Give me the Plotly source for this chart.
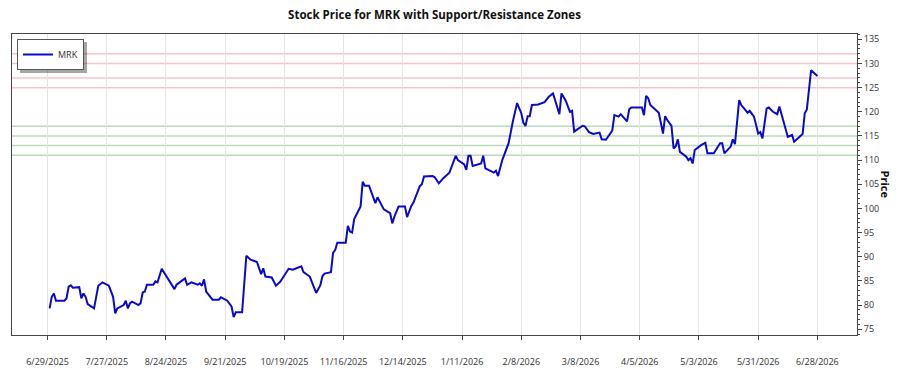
import plotly.graph_objects as go

# ---- data ----
dates = [
    "2025-06-30", "2025-07-01", "2025-07-02", "2025-07-03", "2025-07-07", "2025-07-08",
    "2025-07-09", "2025-07-10", "2025-07-11", "2025-07-14", "2025-07-15", "2025-07-16",
    "2025-07-17", "2025-07-18", "2025-07-21", "2025-07-23", "2025-07-25", "2025-07-28",
    "2025-07-30", "2025-07-31", "2025-08-01", "2025-08-04", "2025-08-05", "2025-08-06",
    "2025-08-07", "2025-08-08", "2025-08-11", "2025-08-12", "2025-08-13", "2025-08-14",
    "2025-08-15", "2025-08-18", "2025-08-19", "2025-08-20", "2025-08-22", "2025-08-25",
    "2025-08-26", "2025-08-28", "2025-08-29", "2025-09-02", "2025-09-03", "2025-09-05",
    "2025-09-08", "2025-09-09", "2025-09-10", "2025-09-11", "2025-09-12", "2025-09-15",
    "2025-09-18", "2025-09-19", "2025-09-22", "2025-09-24", "2025-09-25", "2025-09-26",
    "2025-09-29", "2025-10-01", "2025-10-03", "2025-10-06", "2025-10-08", "2025-10-09",
    "2025-10-10", "2025-10-13", "2025-10-15", "2025-10-17", "2025-10-21", "2025-10-23",
    "2025-10-27", "2025-10-28", "2025-10-31", "2025-11-03", "2025-11-05", "2025-11-06",
    "2025-11-07", "2025-11-10", "2025-11-11", "2025-11-12", "2025-11-13", "2025-11-17",
    "2025-11-18", "2025-11-19", "2025-11-20", "2025-11-21", "2025-11-24", "2025-11-25",
    "2025-11-26", "2025-11-28", "2025-12-01", "2025-12-02", "2025-12-05", "2025-12-08",
    "2025-12-09", "2025-12-10", "2025-12-12", "2025-12-15", "2025-12-16", "2025-12-18",
    "2025-12-19", "2025-12-22", "2025-12-23", "2025-12-24", "2025-12-28", "2025-12-29",
    "2025-12-31", "2026-01-02", "2026-01-05", "2026-01-06", "2026-01-08", "2026-01-09",
    "2026-01-12", "2026-01-13", "2026-01-14", "2026-01-15", "2026-01-16", "2026-01-20",
    "2026-01-21", "2026-01-22", "2026-01-24", "2026-01-26", "2026-01-27", "2026-01-28",
    "2026-01-30", "2026-02-02", "2026-02-04", "2026-02-06", "2026-02-08", "2026-02-09",
    "2026-02-10", "2026-02-11", "2026-02-12", "2026-02-13", "2026-02-16", "2026-02-19",
    "2026-02-21", "2026-02-23", "2026-02-26", "2026-02-27", "2026-03-01", "2026-03-03",
    "2026-03-04", "2026-03-05", "2026-03-06", "2026-03-09", "2026-03-10", "2026-03-12",
    "2026-03-14", "2026-03-17", "2026-03-18", "2026-03-20", "2026-03-23", "2026-03-24",
    "2026-03-26", "2026-03-27", "2026-03-30", "2026-03-31", "2026-04-01", "2026-04-06",
    "2026-04-07", "2026-04-08", "2026-04-09", "2026-04-10", "2026-04-14", "2026-04-16",
    "2026-04-17", "2026-04-18", "2026-04-20", "2026-04-21", "2026-04-22", "2026-04-23",
    "2026-04-24", "2026-04-27", "2026-04-28", "2026-04-29", "2026-04-30", "2026-05-01",
    "2026-05-04", "2026-05-06", "2026-05-07", "2026-05-10", "2026-05-13", "2026-05-14",
    "2026-05-15", "2026-05-18", "2026-05-19", "2026-05-20", "2026-05-22", "2026-05-23",
    "2026-05-26", "2026-05-27", "2026-05-29", "2026-05-31", "2026-06-01", "2026-06-02",
    "2026-06-04", "2026-06-05", "2026-06-07", "2026-06-09", "2026-06-10", "2026-06-14",
    "2026-06-16", "2026-06-17", "2026-06-21", "2026-06-22", "2026-06-23", "2026-06-25",
    "2026-06-28",
]

prices = [
    79.3, 81.7, 82.4, 80.9, 80.9, 81.4,
    83.8, 84.1, 83.6, 83.7, 81.4, 82.4,
    81.7, 80.2, 79.3, 84.0, 84.7, 84.0,
    81.7, 78.3, 79.3, 80.0, 80.9, 79.3,
    80.4, 80.7, 80.0, 80.4, 82.6, 82.8,
    84.2, 84.2, 84.9, 84.7, 87.5, 85.5,
    84.9, 83.3, 84.2, 85.5, 84.2, 84.7,
    84.2, 84.5, 84.0, 85.3, 82.8, 81.1,
    81.1, 81.6, 80.9, 79.7, 77.5, 78.5,
    78.5, 90.2, 89.4, 88.9, 86.4, 87.6,
    85.9, 85.7, 84.0, 84.8, 87.5, 87.3,
    88.0, 86.8, 85.9, 82.5, 84.1, 86.0,
    86.5, 86.8, 90.8, 91.4, 92.9, 92.9,
    96.4, 95.2, 95.0, 97.8, 100.4, 105.5,
    104.7, 104.7, 101.1, 102.3, 99.8, 99.0,
    96.9, 98.3, 100.4, 100.4, 98.2, 100.5,
    101.2, 104.6, 105.0, 106.6, 106.7, 106.5,
    105.2, 106.2, 107.4, 108.6, 110.9, 110.0,
    109.1, 108.0, 110.9, 110.9, 108.8, 109.3,
    110.9, 108.3, 107.8, 107.4, 107.8, 106.7,
    110.0, 113.5, 118.0, 121.8, 119.7, 117.7,
    117.1, 119.1, 119.1, 121.4, 121.5, 122.0,
    123.1, 123.8, 119.5, 123.8, 122.3, 120.0,
    120.2, 115.9, 116.2, 117.1, 117.0, 115.8,
    115.4, 115.7, 114.3, 114.2, 116.1, 119.3,
    119.0, 119.5, 118.0, 120.5, 120.9, 120.9,
    119.3, 123.3, 122.8, 121.4, 119.8, 115.5,
    119.1, 118.3, 117.1, 112.4, 112.8, 114.3,
    111.7, 110.7, 110.0, 110.4, 109.3, 112.1,
    113.1, 113.6, 111.4, 111.4, 113.5, 113.5,
    111.4, 112.8, 114.3, 113.3, 122.4, 121.4,
    119.8, 120.2, 119.0, 115.5, 115.8, 114.5,
    120.7, 120.9, 120.0, 119.5, 121.1, 114.8,
    115.2, 113.8, 115.4, 119.7, 120.5, 128.6,
    127.4,
]

resistance_levels = [125, 127, 130, 132]
support_levels = [111, 113, 115, 117]

x_tick_dates = [
    "2025-06-29", "2025-07-27", "2025-08-24", "2025-09-21", "2025-10-19", "2025-11-16",
    "2025-12-14", "2026-01-11", "2026-02-08", "2026-03-08", "2026-04-05", "2026-05-03",
    "2026-05-31", "2026-06-28",
]
x_tick_labels = [
    "6/29/2025", "7/27/2025", "8/24/2025", "9/21/2025", "10/19/2025", "11/16/2025",
    "12/14/2025", "1/11/2026", "2/8/2026", "3/8/2026", "4/5/2026", "5/3/2026",
    "5/31/2026", "6/28/2026",
]

FONT = "Open Sans"
AXIS_COLOR = "#444444"

# plot-area geometry (pixels) used for the legend shadow decoration
W, H = 900, 375
ML, MR, MT, MB = 12, 43, 34, 40
PW, PH = W - ML - MR, H - MT - MB


def px_x(px):
    return (px - ML) / PW


def px_y(py):
    return 1 - (py - MT) / PH


fig = go.Figure()

for lvl in resistance_levels:
    fig.add_hline(y=lvl, line=dict(color="rgba(235,80,100,0.35)", width=1.5), layer="below")
for lvl in support_levels:
    fig.add_hline(y=lvl, line=dict(color="rgba(60,150,60,0.35)", width=1.5), layer="below")

fig.add_trace(go.Scatter(
    x=dates, y=prices, mode="lines", name="MRK",
    line=dict(color="#0A0ACD", width=2),
))

# legend drop shadow
fig.add_shape(
    type="rect", xref="paper", yref="paper",
    x0=px_x(20), x1=px_x(87), y0=px_y(73), y1=px_y(42),
    fillcolor="rgba(0,0,0,0.35)", line=dict(width=0), layer="above",
)

fig.update_layout(
    width=W, height=H,
    margin=dict(l=ML, r=MR, t=MT, b=MB),
    paper_bgcolor="white", plot_bgcolor="white",
    font=dict(family=FONT, size=9, color="#333333"),
    title=dict(
        text="Stock Price for MRK with Support/Resistance Zones",
        x=0.5, xref="paper", xanchor="center",
        y=1 - 15 / 375, yref="container", yanchor="middle",
        font=dict(family=FONT, size=11.5, color="#111111", weight="bold"),
    ),
    showlegend=True,
    legend=dict(
        x=px_x(17), y=px_y(39), xanchor="left", yanchor="top",
        bgcolor="white", bordercolor="#555555", borderwidth=1,
        font=dict(family=FONT, size=9, color="#333333"),
        itemwidth=30,
    ),
    xaxis=dict(
        type="date",
        range=["2025-06-12 05:00", "2026-07-16 17:00"],
        tickmode="array", tickvals=x_tick_dates, ticktext=x_tick_labels,
        showgrid=True, gridcolor="#e4e4e4", gridwidth=1,
        ticks="outside", ticklen=4, tickcolor=AXIS_COLOR,
        showline=True, linecolor=AXIS_COLOR, linewidth=1, mirror=True,
        tickfont=dict(family=FONT, size=9, color="#333333"),
        ticklabelstandoff=14,
        zeroline=False, automargin=False,
    ),
    yaxis=dict(
        side="right",
        range=[73.8, 136.1],
        tick0=75, dtick=5,
        showgrid=False,
        ticks="outside", ticklen=4, tickcolor=AXIS_COLOR,
        minor=dict(ticks="outside", ticklen=2, dtick=1, tickcolor=AXIS_COLOR, showgrid=False),
        showline=True, linecolor=AXIS_COLOR, linewidth=1, mirror=True,
        tickfont=dict(family=FONT, size=9, color="#333333"),
        zeroline=False, automargin=False,
    ),
)

fig.add_annotation(
    text="<b>Price</b>", textangle=90,
    x=1, xref="paper", xanchor="center", xshift=28,
    y=0.5, yref="paper", yanchor="middle",
    showarrow=False,
    font=dict(family=FONT, size=11, color="#111111"),
)

fig.write_html("out.html")
